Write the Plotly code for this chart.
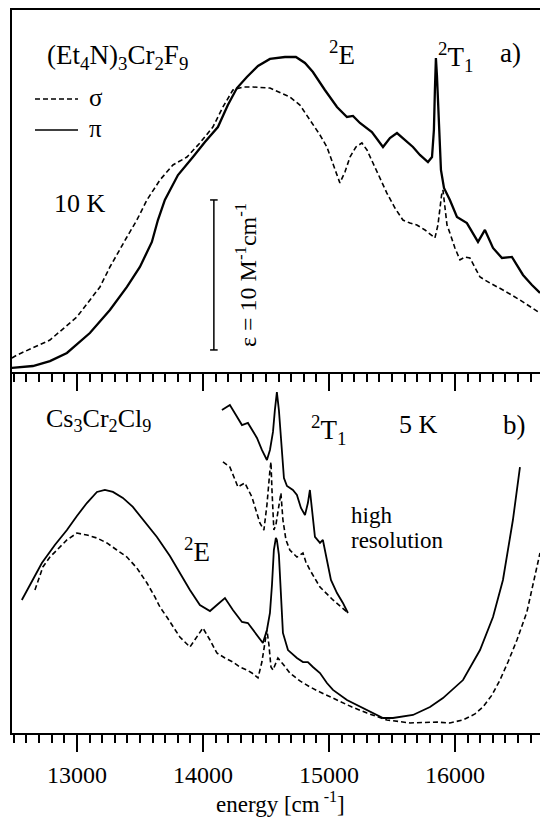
import plotly.graph_objects as go

# ---------------- data ----------------
# Panel a) (Et4N)3Cr2F9, 10 K ; y in M^-1 cm^-1
a_pi_x = [12484, 12651, 12786, 12921, 13103, 13262, 13397, 13500, 13595, 13643, 13698, 13802, 13921,
          14016, 14119, 14198, 14270, 14349, 14437, 14532, 14651, 14738, 14810, 14873, 14968, 15064,
          15143, 15191, 15246, 15341, 15429, 15484, 15540, 15603, 15667, 15722, 15786, 15818, 15833,
          15841, 15849, 15857, 15873, 15889, 15913, 15960, 16016, 16095, 16183, 16238, 16302, 16373,
          16452, 16540, 16611, 16675]
a_pi_y = [0.27, 0.4, 0.73, 1.27, 2.6, 4.13, 5.67, 7.0, 8.67, 10.13, 11.47, 13.13, 14.33,
          15.33, 16.33, 17.8, 18.93, 19.67, 20.4, 20.87, 21.0, 21.0, 20.6, 20.0, 18.8, 17.67,
          17.0, 17.07, 16.6, 16.0, 15.0, 15.6, 15.93, 15.47, 15.0, 14.47, 14.0, 14.33, 16.13,
          18.8, 20.93, 19.8, 16.13, 13.47, 12.27, 11.47, 10.33, 9.93, 8.67, 9.47, 8.27, 7.6,
          7.67, 6.47, 5.8, 5.27]

a_sigma_x = [12484, 12524, 12786, 13000, 13183, 13262, 13397, 13476, 13556, 13659, 13762, 13873, 13976,
             14079, 14159, 14238, 14318, 14397, 14532, 14690, 14770, 14849, 14929, 14984, 15048, 15087,
             15127, 15167, 15214, 15262, 15302, 15349, 15405, 15460, 15524, 15587, 15643, 15698, 15762,
             15841, 15865, 15881, 15897, 15905, 15921, 15937, 15960, 16000, 16040, 16079, 16119, 16199,
             16278, 16381, 16516, 16675]
a_sigma_y = [0.93, 1.13, 2.13, 3.67, 5.67, 7.0, 9.0, 10.13, 11.47, 12.8, 13.8, 14.33, 15.27,
             16.33, 17.67, 18.8, 19.0, 19.0, 18.93, 18.33, 17.8, 16.8, 15.8, 15.0, 13.47, 12.6,
             13.33, 14.33, 15.0, 15.27, 14.8, 13.93, 12.93, 11.93, 10.93, 10.13, 9.93, 9.8, 9.47,
             8.93, 9.8, 11.13, 12.0, 12.13, 11.13, 9.8, 9.27, 8.27, 7.47, 7.67, 7.6, 6.33,
             5.93, 5.47, 4.8, 3.93]

# Panel b) Cs3Cr2Cl9, 5 K ; arbitrary absorbance units
b_pi_x = [12563, 12643, 12722, 12825, 12921, 13000, 13079, 13159, 13222, 13286, 13365, 13444, 13540,
          13635, 13738, 13817, 13897, 13976, 14056, 14111, 14175, 14238, 14310, 14357, 14413, 14476,
          14508, 14532, 14548, 14563, 14579, 14587, 14603, 14619, 14635, 14675, 14746, 14794, 14833,
          14873, 14929, 14984, 15032, 15143, 15302, 15429, 15508, 15667, 15802, 15905, 16064, 16199,
          16302, 16381, 16460, 16516]
b_pi_y = [8.87, 10.07, 11.33, 12.53, 13.53, 14.47, 15.33, 16.07, 16.2, 16.07, 15.67, 15.07, 14.07,
          13.07, 11.8, 10.67, 9.53, 8.53, 8.13, 8.53, 9.0, 8.2, 7.4, 7.33, 6.73, 6.0,
          6.87, 8.0, 9.87, 12.2, 13.0, 12.87, 11.87, 8.87, 6.67, 5.53, 5.0, 4.73, 4.73,
          4.4, 4.0, 3.33, 2.87, 2.2, 1.53, 1.0, 1.0, 1.2, 1.73, 2.33, 3.53, 5.53,
          7.73, 10.2, 14.2, 17.73]

b_sigma_x = [12667, 12730, 12786, 12841, 12921, 13000, 13079, 13159, 13238, 13317, 13397, 13476, 13556,
             13619, 13659, 13714, 13762, 13817, 13897, 13952, 14000, 14056, 14111, 14175, 14238, 14294,
             14349, 14389, 14437, 14468, 14492, 14508, 14524, 14540, 14556, 14571, 14595, 14635, 14690,
             14770, 14849, 14929, 15064, 15183, 15302, 15460, 15643, 15857, 15960, 16064, 16159, 16222,
             16294, 16357, 16421, 16492, 16571, 16619, 16675]
b_sigma_y = [9.53, 11.07, 11.73, 12.2, 12.87, 13.33, 13.2, 13.0, 12.67, 12.2, 11.73, 11.0, 10.0,
             9.07, 8.4, 7.73, 7.07, 6.4, 5.73, 6.4, 7.0, 6.2, 5.33, 5.0, 4.73, 4.4,
             4.2, 4.0, 3.67, 4.73, 6.0, 6.87, 5.87, 4.4, 4.2, 4.53, 5.0, 4.6, 4.0,
             3.47, 3.07, 2.73, 2.2, 1.73, 1.33, 0.87, 0.67, 0.73, 0.67, 0.87, 1.27, 1.73,
             2.53, 3.53, 4.73, 6.2, 8.07, 9.87, 12.0]

# high resolution spectra (inset, panel b)
hr_pi_x = [14151, 14214, 14262, 14310, 14357, 14429, 14468, 14508, 14532, 14556, 14571, 14587, 14603,
           14627, 14643, 14667, 14690, 14714, 14746, 14778, 14810, 14833, 14849, 14865, 14889, 14929,
           14952, 14984, 15016, 15064, 15111, 15151]
hr_pi_y = [21.53, 21.87, 21.2, 20.53, 20.67, 19.67, 18.87, 18.2, 18.87, 20.07, 21.53, 22.73, 21.53,
           18.87, 17.0, 16.47, 16.33, 16.2, 15.87, 15.0, 14.53, 15.33, 16.2, 14.87, 13.07, 12.67,
           12.87, 11.53, 10.2, 9.33, 8.67, 8.0]

hr_sigma_x = [14159, 14214, 14278, 14333, 14389, 14429, 14452, 14484, 14508, 14532, 14540, 14548, 14563,
              14579, 14603, 14619, 14635, 14659, 14690, 14746, 14794, 14817, 14849, 14929, 15032, 15143]
hr_sigma_y = [18.07, 17.73, 16.4, 16.67, 15.73, 14.73, 14.0, 13.53, 15.2, 17.53, 18.07, 16.2, 13.53,
              13.87, 15.2, 16.0, 14.2, 12.87, 12.2, 11.73, 12.0, 11.4, 10.87, 9.73, 8.87, 8.07]

tick_vals = [13000, 14000, 15000, 16000]
tick_text = ["13000", "14000", "15000", "16000"]
x_range = [12485, 16675]
scale_bar_value = 10          # epsilon = 10 M^-1 cm^-1
scale_bar_x = 14087
scale_bar_y0 = 1.47

# ---------------- figure ----------------
FONT = "Liberation Serif, Times New Roman, DejaVu Serif, serif"
BLACK = "#000000"

fig = go.Figure()

def add(x, y, dash, xa, ya, width=2.0):
    fig.add_trace(go.Scatter(x=x, y=y, mode="lines", xaxis=xa, yaxis=ya,
                             line=dict(color=BLACK, width=width, dash=dash),
                             showlegend=False, hoverinfo="skip"))

add(a_sigma_x, a_sigma_y, "5px,3px", "x", "y", 1.6)
add(a_pi_x, a_pi_y, "solid", "x", "y", 2.3)
add(b_sigma_x, b_sigma_y, "5px,3px", "x2", "y2", 1.6)
add(b_pi_x, b_pi_y, "solid", "x2", "y2", 1.8)
add(hr_sigma_x, hr_sigma_y, "5px,3px", "x2", "y2", 1.6)
add(hr_pi_x, hr_pi_y, "solid", "x2", "y2", 1.8)

split = 361 / 723

common_x = dict(range=x_range, showgrid=False, zeroline=False, showline=True,
                linecolor=BLACK, linewidth=2, ticks="outside", ticklen=17, tickwidth=2,
                tickcolor=BLACK, tickmode="array", tickvals=tick_vals, ticktext=tick_text,
                minor=dict(dtick=100, tick0=13000, ticks="outside", ticklen=8, tickwidth=2,
                           tickcolor=BLACK, showgrid=False))

fig.update_layout(
    width=540, height=818,
    margin=dict(l=12, r=0, t=10, b=85),
    paper_bgcolor="white", plot_bgcolor="white",
    showlegend=False,
    font=dict(family=FONT, color=BLACK, size=22),
    xaxis=dict(**common_x, anchor="y", domain=[0, 1], showticklabels=False, mirror=True),
    yaxis=dict(domain=[split, 1], range=[0, 362 / 15], showgrid=False, zeroline=False,
               showline=True, linecolor=BLACK, linewidth=2, ticks="", showticklabels=False),
    xaxis2=dict(**common_x, anchor="y2", domain=[0, 1], matches="x", showticklabels=True,
                tickfont=dict(family=FONT, size=24, color=BLACK), ticklabelstandoff=2),
    yaxis2=dict(domain=[0, split], range=[0, 361 / 15], showgrid=False, zeroline=False,
                showline=True, linecolor=BLACK, linewidth=2, ticks="", showticklabels=False),
)

# scale bar in panel a
sb_y1 = scale_bar_y0 + scale_bar_value
fig.add_shape(type="line", xref="x", yref="y", x0=scale_bar_x, x1=scale_bar_x,
              y0=scale_bar_y0, y1=sb_y1, line=dict(color=BLACK, width=1.5))
for yy in (scale_bar_y0, sb_y1):
    fig.add_shape(type="line", xref="x", yref="y", x0=scale_bar_x - 30, x1=scale_bar_x + 30,
                  y0=yy, y1=yy, line=dict(color=BLACK, width=1.5))

def px(x):
    return (x - 12) / 528

def py(y):
    return (733 - y) / 723

# legend samples
fig.add_shape(type="line", xref="paper", yref="paper", x0=px(35), x1=px(78), y0=py(99), y1=py(99),
              line=dict(color=BLACK, width=1.6, dash="5px,3px"))
fig.add_shape(type="line", xref="paper", yref="paper", x0=px(35), x1=px(78), y0=py(130), y1=py(130),
              line=dict(color=BLACK, width=1.6))

def txt(text, x, y, size=24, xanchor="center", yanchor="middle", angle=0):
    fig.add_annotation(text=text, x=px(x), y=py(y), xref="paper", yref="paper",
                       xanchor=xanchor, yanchor=yanchor, showarrow=False, textangle=angle,
                       font=dict(family=FONT, size=size, color=BLACK))

txt("(Et<sub>4</sub>N)<sub>3</sub>Cr<sub>2</sub>F<sub>9</sub>", 117, 57, 27)
txt("σ", 87, 97, 25, "left")
txt("π", 87, 129, 25, "left")
txt("10 K", 52, 203, 26, "left")
txt("ε = 10 M<sup>-1</sup>cm<sup>-1</sup>", 246, 275, 24, angle=-90)
txt("<sup>2</sup>E", 342, 53, 27)
txt("<sup>2</sup>T<sub>1</sub>", 455, 57, 27)
txt("a)", 510, 53, 27)
txt("Cs<sub>3</sub>Cr<sub>2</sub>Cl<sub>9</sub>", 98, 420, 26)
txt("<sup>2</sup>T<sub>1</sub>", 328, 430, 27)
txt("5 K", 418, 425, 26)
txt("b)", 514, 425, 27)
txt("<sup>2</sup>E", 197, 550, 27)
txt("high", 349, 515, 23, "left")
txt("resolution", 349, 540, 23, "left")
txt("energy [cm<sup> -1</sup>]", 280, 802, 23)

fig.write_html("out.html")
